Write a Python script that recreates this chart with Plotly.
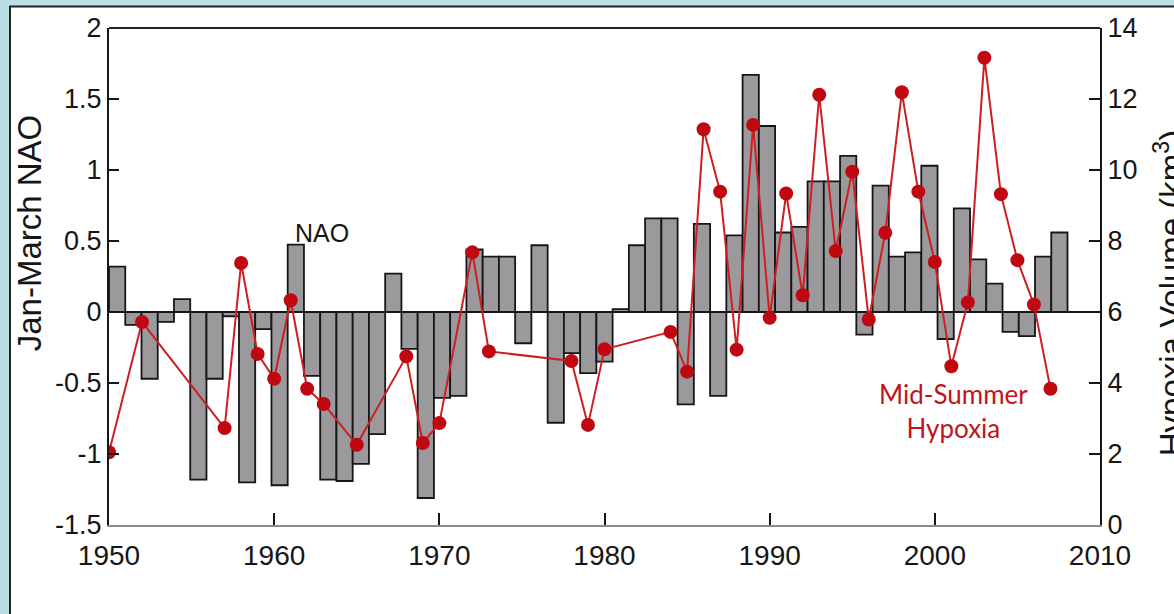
import plotly.graph_objects as go

# ---- data ----
nao_years = list(range(1950, 2009))
nao_values = [0.32, -0.09, -0.47, -0.07, 0.09, -1.18, -0.47, -0.03, -1.20, -0.12,
              -1.22, 0.475, -0.45, -1.18, -1.19, -1.07, -0.86, 0.27, -0.26, -1.31,
              -0.605, -0.59, 0.44, 0.39, 0.39, -0.22, 0.47, -0.78, -0.29, -0.43,
              -0.35, 0.02, 0.47, 0.66, 0.66, -0.65, 0.62, -0.59, 0.54, 1.67,
              1.31, 0.56, 0.60, 0.92, 0.92, 1.10, -0.16, 0.89, 0.39, 0.42,
              1.03, -0.19, 0.73, 0.37, 0.20, -0.14, -0.17, 0.39, 0.56]

hyp_years = [1950, 1952, 1957, 1958, 1959, 1960, 1961, 1962, 1963, 1965,
             1968, 1969, 1970, 1972, 1973, 1978, 1979, 1980, 1984, 1985,
             1986, 1987, 1988, 1989, 1990, 1991, 1992, 1993, 1994, 1995,
             1996, 1997, 1998, 1999, 2000, 2001, 2002, 2003, 2004, 2005,
             2006, 2007]
hyp_values = [2.05, 5.72, 2.73, 7.38, 4.82, 4.12, 6.33, 3.84, 3.41, 2.26,
              4.75, 2.31, 2.87, 7.68, 4.89, 4.62, 2.82, 4.95, 5.44, 4.32,
              11.15, 9.39, 4.94, 11.27, 5.84, 9.34, 6.47, 12.12, 7.72, 9.95,
              5.79, 8.23, 12.19, 9.39, 7.41, 4.47, 6.27, 13.16, 9.32, 7.46,
              6.21, 3.84]

x_ticks = [1950, 1960, 1970, 1980, 1990, 2000, 2010]
nao_ticks = [2, 1.5, 1, 0.5, 0, -0.5, -1, -1.5]
nao_tick_text = ["2", "1.5", "1", "0.5", "0", "-0.5", "-1", "-1.5"]
hyp_ticks = [0, 2, 4, 6, 8, 10, 12, 14]

FONT = "Liberation Sans, Arial, Helvetica, sans-serif"
INK = "#161616"
RED_LINE = "#cc1f22"
RED_DOT = "#c00812"

fig = go.Figure()

fig.add_trace(go.Bar(
    x=nao_years, y=nao_values, width=1, offset=0,
    marker=dict(color="#9b999b", line=dict(color=INK, width=1.8)),
    xaxis="x", yaxis="y", showlegend=False,
))

fig.add_trace(go.Scatter(
    x=hyp_years, y=hyp_values, mode="lines+markers",
    line=dict(color=RED_LINE, width=2),
    marker=dict(color=RED_DOT, size=14),
    xaxis="x2", yaxis="y2", showlegend=False,
))

fig.update_layout(
    width=1174, height=614,
    margin=dict(l=109, r=74, t=28, b=89),
    paper_bgcolor="#b9dee3",
    plot_bgcolor="white",
    font=dict(family=FONT, color=INK),
    xaxis=dict(range=[1950, 2011], visible=False, showgrid=False, zeroline=False,
               automargin=False),
    xaxis2=dict(
        overlaying="x", anchor="y2", side="bottom",
        range=[1950, 2010], tickvals=x_ticks,
        ticks="inside", ticklen=12, tickwidth=2, tickcolor=INK,
        showline=True, linecolor="#8a8a8a", linewidth=1.5,
        showgrid=False, zeroline=False, automargin=False,
        ticklabelstandoff=5,
        tickfont=dict(size=28, family=FONT, color=INK),
    ),
    yaxis=dict(
        anchor="x", range=[-1.5, 2], tickvals=nao_ticks, ticktext=nao_tick_text,
        ticks="inside", ticklen=10, tickwidth=2, tickcolor=INK,
        showline=True, linecolor=INK, linewidth=2,
        showgrid=False, zeroline=True, zerolinecolor=INK, zerolinewidth=2,
        automargin=False,
        tickfont=dict(size=27, family=FONT, color=INK),
    ),
    yaxis2=dict(
        overlaying="y", anchor="x2", side="right",
        range=[0, 14], tickvals=hyp_ticks,
        ticks="inside", ticklen=11, tickwidth=2, tickcolor=INK,
        showline=True, linecolor=INK, linewidth=2,
        showgrid=False, zeroline=False, automargin=False,
        tickfont=dict(size=27, family=FONT, color=INK),
    ),
    shapes=[
        # white panel with dark border on the light-blue page
        dict(type="rect", xref="paper", yref="paper",
             x0=-0.0999, x1=1.2, y0=-0.3, y1=1.0433,
             fillcolor="white", line=dict(color="#222222", width=2), layer="below"),
        # top frame line of the plot box
        dict(type="line", xref="paper", yref="paper", x0=0, x1=1, y0=1, y1=1,
             line=dict(color="#222222", width=2)),
    ],
    annotations=[
        dict(text="Jan-March NAO", xref="paper", yref="paper",
             x=-0.0807, y=0.587, textangle=-90, showarrow=False,
             font=dict(size=33, family=FONT, color=INK),
             xanchor="center", yanchor="middle"),
        dict(text="Hypoxia Volume (km<sup>3</sup>)", xref="paper", yref="paper",
             x=1.0705, y=0.466, textangle=-90, showarrow=False,
             font=dict(size=33, family=FONT, color=INK),
             xanchor="center", yanchor="middle"),
        dict(text="NAO", xref="x2", yref="y", x=1962.9, y=0.556,
             showarrow=False, font=dict(size=25, family=FONT, color=INK),
             xanchor="center", yanchor="middle"),
        dict(text="Mid-Summer<br>Hypoxia", xref="x2", yref="y2", x=2001.1, y=3.2,
             showarrow=False, font=dict(size=26, family="Lato, Open Sans, sans-serif",
                                        color="#c0141c"),
             xanchor="center", yanchor="middle", align="center"),
    ],
)

fig.write_html("out.html", config={"displayModeBar": False},
               post_script="document.body.style.margin='0px';")
